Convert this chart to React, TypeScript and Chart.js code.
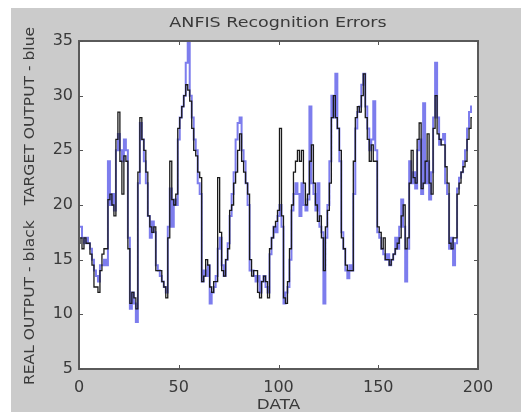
import React, { useEffect, useRef } from "react";
import { Chart, registerables } from "chart.js";

Chart.register(...registerables);

const titleText = "ANFIS Recognition Errors";
const xLabel = "DATA";
const yLabel = "REAL OUTPUT - black   TARGET OUTPUT - blue";
const xTicks = [0, 50, 100, 150, 200];
const yTicks = [5, 10, 15, 20, 25, 30, 35];

const realOutput = [
  16.5, 17, 16, 17, 16.5, 16.5, 15.5, 14.5, 12.5, 12.5,
  12, 14, 15.5, 16, 16, 20.5, 21, 20, 19, 26,
  28.5, 24, 21, 24.5, 24, 16, 11, 12, 11.5, 10.5,
  23, 28, 26, 25, 23, 19, 18, 17.5, 18, 14,
  14, 14, 13, 12.5, 11.5, 17, 24, 20.5, 20, 21,
  27, 28, 29, 30, 31, 30.5, 29.5, 27, 25, 24.5,
  23, 22.5, 13, 13.5, 15, 14.5, 12.5, 12, 13, 13,
  22.5, 17.5, 14, 13.5, 15, 16, 19.5, 20, 22, 23,
  25, 26.5, 24, 23, 22, 21, 15, 13.5, 14, 14,
  12, 11.5, 13, 13.5, 13, 11.5, 16, 17, 18, 18.5,
  19.5, 27, 19, 11.5, 11, 13, 16, 20, 23, 24,
  25, 24, 25, 22, 20, 21, 24, 25.5, 22, 20,
  18.5, 19, 17, 14, 18, 19.5, 22, 28, 30, 28,
  27, 25, 17, 16, 14.5, 14, 14, 14, 24, 28,
  29, 28.5, 30, 32, 28, 26, 24, 25.5, 24, 24,
  18, 17.5, 16, 17, 15, 15, 14.5, 15, 15.5, 16,
  16.5, 17, 19, 20, 16, 17, 22, 25, 22.5, 22,
  26, 27.5, 21.5, 22, 24, 26.5, 22, 21, 27, 30,
  26.5, 26, 25.5, 25.5, 23.5, 22, 16.5, 16, 17, 17,
  21, 22, 23, 23.5, 24, 26, 27, 28,
];

const targetOutput = [
  18, 18, 17, 16.5, 17, 16.5, 16, 15, 14, 13.5,
  13, 14.5, 14.5, 15, 14.5, 24, 20, 21, 19.5, 25,
  26.5, 25, 24, 26, 25, 17, 10.5, 12, 11, 9.3,
  22, 27.5, 26, 24, 22, 19, 17, 18.5, 17.5, 14.5,
  14, 13.5, 13, 12.5, 12, 18, 21.5, 18, 20.5, 20,
  26, 28, 29, 30, 33, 35, 30, 28, 26, 25,
  22, 21, 13, 14, 13.5, 14.5, 11, 12, 12.5, 13.5,
  16, 17, 14.5, 13.5, 15, 16.5, 19, 21, 23, 26,
  27.5, 28, 25, 24, 22, 20, 14, 14, 13.5, 13,
  13.5, 12, 13, 13.5, 12.5, 12, 15.5, 17, 18, 17.5,
  19, 20, 18, 11, 12, 12.5, 15, 19.5, 21, 22,
  21, 19, 22, 20, 19.5, 20.5, 29, 22, 21, 19.5,
  22, 18, 17.5, 11, 17, 20, 24, 30, 28, 32,
  27, 24, 17.5, 16, 14, 13.3, 14.5, 14, 21, 27,
  28.5, 29, 31, 32, 29, 27, 25, 26, 29.5, 25,
  17.5, 17, 16, 15.5, 15, 15.5, 14.5, 15, 15.5, 17,
  16, 18, 20.5, 18, 13, 16, 24, 22, 23, 21.5,
  25, 26, 21, 29.3, 22, 24, 20.5, 23, 28, 33,
  28, 25.5, 26, 26.5, 22, 21, 16, 17, 14.5, 16.5,
  21.5, 22.5, 23, 24, 25, 27, 28.5, 29,
];

const FONT = "'DejaVu Sans', sans-serif";

const framePlugin = {
  id: "frame",
  beforeDraw(chart: any) {
    const { ctx, width, height, chartArea } = chart;
    ctx.save();
    ctx.fillStyle = "#cbcbcb";
    ctx.fillRect(0, 0, width, height);
    ctx.fillStyle = "#ffffff";
    ctx.fillRect(chartArea.left, chartArea.top, chartArea.right - chartArea.left, chartArea.bottom - chartArea.top);
    ctx.restore();
  },
  afterDraw(chart: any) {
    const { ctx, chartArea, scales } = chart;
    const { left, right, top, bottom } = chartArea;
    ctx.save();
    ctx.strokeStyle = "#5a5a5a";
    ctx.lineWidth = 2;
    ctx.strokeRect(left, top, right - left, bottom - top);
    ctx.lineWidth = 1;
    ctx.strokeStyle = "#555555";
    const tl = 4;
    xTicks.forEach((v) => {
      const px = Math.round(scales.x.getPixelForValue(v)) + 0.5;
      ctx.beginPath();
      ctx.moveTo(px, bottom);
      ctx.lineTo(px, bottom - tl);
      ctx.moveTo(px, top);
      ctx.lineTo(px, top + tl);
      ctx.stroke();
    });
    yTicks.forEach((v) => {
      const py = Math.round(scales.y.getPixelForValue(v)) + 0.5;
      ctx.beginPath();
      ctx.moveTo(left, py);
      ctx.lineTo(left + tl, py);
      ctx.moveTo(right, py);
      ctx.lineTo(right - tl, py);
      ctx.stroke();
    });
    ctx.fillStyle = "#3a3a3a";
    ctx.font = `14px ${FONT}`;
    ctx.textAlign = "center";
    ctx.textBaseline = "middle";

    ctx.save();
    ctx.translate(267, 15);
    ctx.scale(1.25, 1);
    ctx.fillText(titleText, 0, 0);
    ctx.restore();

    ctx.save();
    ctx.translate((left + right) / 2, 397);
    ctx.scale(1.2, 1);
    ctx.fillText(xLabel, 0, 0);
    ctx.restore();

    ctx.save();
    ctx.translate(19, (top + bottom) / 2 + 1);
    ctx.rotate(-Math.PI / 2);
    ctx.scale(1.11, 1);
    ctx.fillText(yLabel, 0, 0);
    ctx.restore();

    ctx.restore();
  },
};

export default function App() {
  const ref = useRef<HTMLCanvasElement | null>(null);
  useEffect(() => {
    if (!ref.current) return;
    const toPts = (arr: number[]) => arr.map((y, i) => ({ x: i, y }));
    const chart = new Chart(ref.current, {
      type: "line",
      data: {
        datasets: [
          {
            label: "REAL OUTPUT",
            data: toPts(realOutput),
            borderColor: "#1a1a1a",
            borderWidth: 1.3,
            pointRadius: 0,
            stepped: "middle",
          },
          {
            label: "TARGET OUTPUT",
            data: toPts(targetOutput),
            borderColor: "rgba(70,70,230,0.7)",
            borderWidth: 2,
            pointRadius: 0,
            stepped: "middle",
          },
        ],
      },
      options: {
        animation: false,
        responsive: false,
        maintainAspectRatio: false,
        layout: { padding: { left: 0, right: 43, top: 33, bottom: 19 } },
        plugins: { legend: { display: false }, tooltip: { enabled: false }, title: { display: false } },
        scales: {
          x: {
            type: "linear",
            min: 0,
            max: 200,
            afterBuildTicks: (s: any) => {
              s.ticks = xTicks.map((v) => ({ value: v }));
            },
            afterFit: (s: any) => {
              s.height = 24;
            },
            grid: { display: false, drawTicks: false },
            border: { display: false },
            ticks: { font: { family: FONT, size: 16 }, color: "#3a3a3a", padding: 9, maxRotation: 0 },
          },
          y: {
            type: "linear",
            min: 5,
            max: 35,
            afterBuildTicks: (s: any) => {
              s.ticks = yTicks.map((v) => ({ value: v }));
            },
            afterFit: (s: any) => {
              s.width = 68;
            },
            grid: { display: false, drawTicks: false },
            border: { display: false },
            ticks: { font: { family: FONT, size: 16 }, color: "#3a3a3a", padding: 6 },
          },
        },
      },
      plugins: [framePlugin],
    });
    return () => chart.destroy();
  }, []);
  return (
    <div style={{ position: "fixed", left: 11, top: 8, width: 510, height: 404 }}>
      <canvas ref={ref} width={510} height={404} style={{ display: "block", width: 510, height: 404 }} />
    </div>
  );
}
